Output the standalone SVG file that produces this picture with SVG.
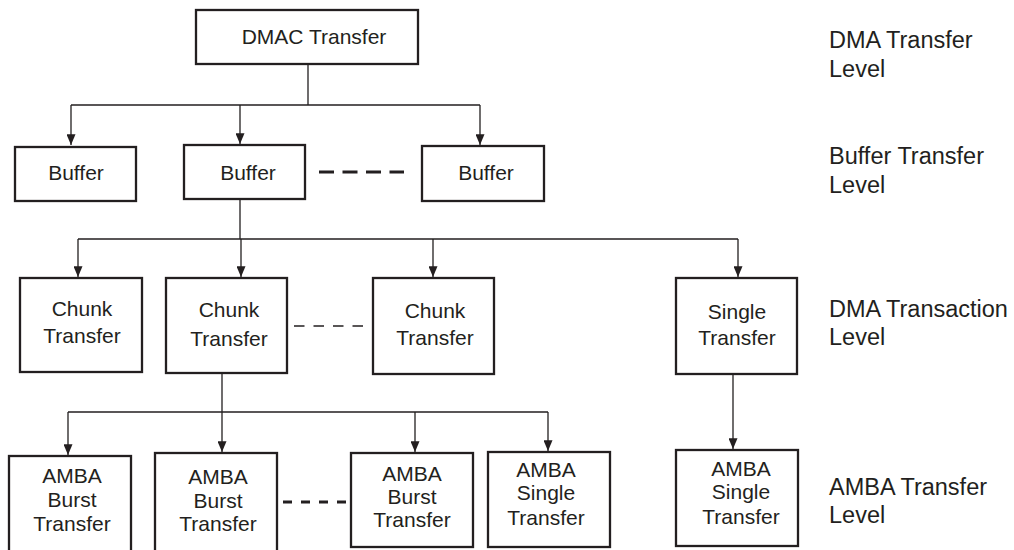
<svg xmlns="http://www.w3.org/2000/svg" width="1014" height="550" viewBox="0 0 1014 550">
<style>
.box{fill:#fff;stroke:#231f20;stroke-width:2.3}
.t{font-family:"Liberation Sans",Arial,sans-serif;font-size:21px;fill:#231f20;text-anchor:middle}
.lv{font-family:"Liberation Sans",Arial,sans-serif;font-size:23.5px;fill:#231f20}
.c{fill:none;stroke:#231f20;stroke-width:1.3}
.arr{marker-end:url(#ah)}
.dk{fill:none;stroke:#231f20;stroke-width:3}
.dt{fill:none;stroke:#231f20;stroke-width:1.3}
</style>
<defs>
<marker id="ah" viewBox="0 0 12 10" refX="12" refY="5" markerWidth="12" markerHeight="9" orient="auto" markerUnits="userSpaceOnUse">
<path d="M0,0 L12,5 L0,10 z" fill="#231f20"/>
</marker>
</defs>
<rect width="1014" height="550" fill="#fff"/>
<g id="connectors">
<path class="c" d="M308,65 V105 M71,105 H480"/>
<path class="c arr" d="M71,105 V145"/>
<path class="c arr" d="M240,105 V144"/>
<path class="c arr" d="M480,105 V145"/>
<path class="c" d="M240,200 V239 M78,239 H738"/>
<path class="c arr" d="M78,239 V277"/>
<path class="c arr" d="M241,239 V277"/>
<path class="c arr" d="M433,239 V277"/>
<path class="c arr" d="M738,239 V277"/>
<path class="c" d="M222,374 V412 M68,412 H548"/>
<path class="c arr" d="M68,412 V455"/>
<path class="c arr" d="M222,412 V452"/>
<path class="c arr" d="M415,412 V452"/>
<path class="c arr" d="M548,412 V451"/>
<path class="c arr" d="M733,375 V449"/>
<path class="dk" d="M319,172 H404" stroke-dasharray="15 8.5"/>
<path class="dt" d="M294,326 H366" stroke-dasharray="10.5 9"/>
<path class="dk" d="M283,502 H348" stroke-dasharray="9 9"/>
</g>
<g id="dmac"><rect class="box" x="196" y="10" width="222" height="54"/><text class="t" x="314" y="44">DMAC Transfer</text></g>
<g id="buffer1"><rect class="box" x="15" y="147" width="121" height="54"/><text class="t" x="76" y="180">Buffer</text></g>
<g id="buffer2"><rect class="box" x="184" y="145" width="121" height="54"/><text class="t" x="248" y="180">Buffer</text></g>
<g id="buffer3"><rect class="box" x="422" y="146" width="122" height="55"/><text class="t" x="486" y="180">Buffer</text></g>
<g id="chunk1"><rect class="box" x="20" y="278" width="122" height="94"/><text class="t" x="82" y="316">Chunk</text><text class="t" x="82" y="343">Transfer</text></g>
<g id="chunk2"><rect class="box" x="166" y="278" width="121" height="95"/><text class="t" x="229" y="317">Chunk</text><text class="t" x="229" y="346">Transfer</text></g>
<g id="chunk3"><rect class="box" x="373" y="278" width="121" height="96"/><text class="t" x="435" y="318">Chunk</text><text class="t" x="435" y="345">Transfer</text></g>
<g id="single"><rect class="box" x="676" y="278" width="121" height="96"/><text class="t" x="737" y="319">Single</text><text class="t" x="737" y="345">Transfer</text></g>
<g id="amba1"><rect class="box" x="9" y="456" width="122" height="110"/><text class="t" x="72" y="483">AMBA</text><text class="t" x="72" y="507">Burst</text><text class="t" x="72" y="531">Transfer</text></g>
<g id="amba2"><rect class="box" x="155" y="453" width="122" height="110"/><text class="t" x="218" y="484">AMBA</text><text class="t" x="218" y="508">Burst</text><text class="t" x="218" y="531">Transfer</text></g>
<g id="amba3"><rect class="box" x="351" y="453" width="122" height="94"/><text class="t" x="412" y="481">AMBA</text><text class="t" x="412" y="504">Burst</text><text class="t" x="412" y="527">Transfer</text></g>
<g id="amba4"><rect class="box" x="488" y="452" width="122" height="95"/><text class="t" x="546" y="477">AMBA</text><text class="t" x="546" y="500">Single</text><text class="t" x="546" y="525">Transfer</text></g>
<g id="amba5"><rect class="box" x="676" y="450" width="122" height="96"/><text class="t" x="741" y="476">AMBA</text><text class="t" x="741" y="499">Single</text><text class="t" x="741" y="524">Transfer</text></g>
<g id="levels">
<text class="lv" x="829" y="48">DMA Transfer</text><text class="lv" x="829" y="77">Level</text>
<text class="lv" x="829" y="164">Buffer Transfer</text><text class="lv" x="829" y="193">Level</text>
<text class="lv" x="829" y="317">DMA Transaction</text><text class="lv" x="829" y="345">Level</text>
<text class="lv" x="829" y="495">AMBA Transfer</text><text class="lv" x="829" y="523">Level</text>
</g>
</svg>
